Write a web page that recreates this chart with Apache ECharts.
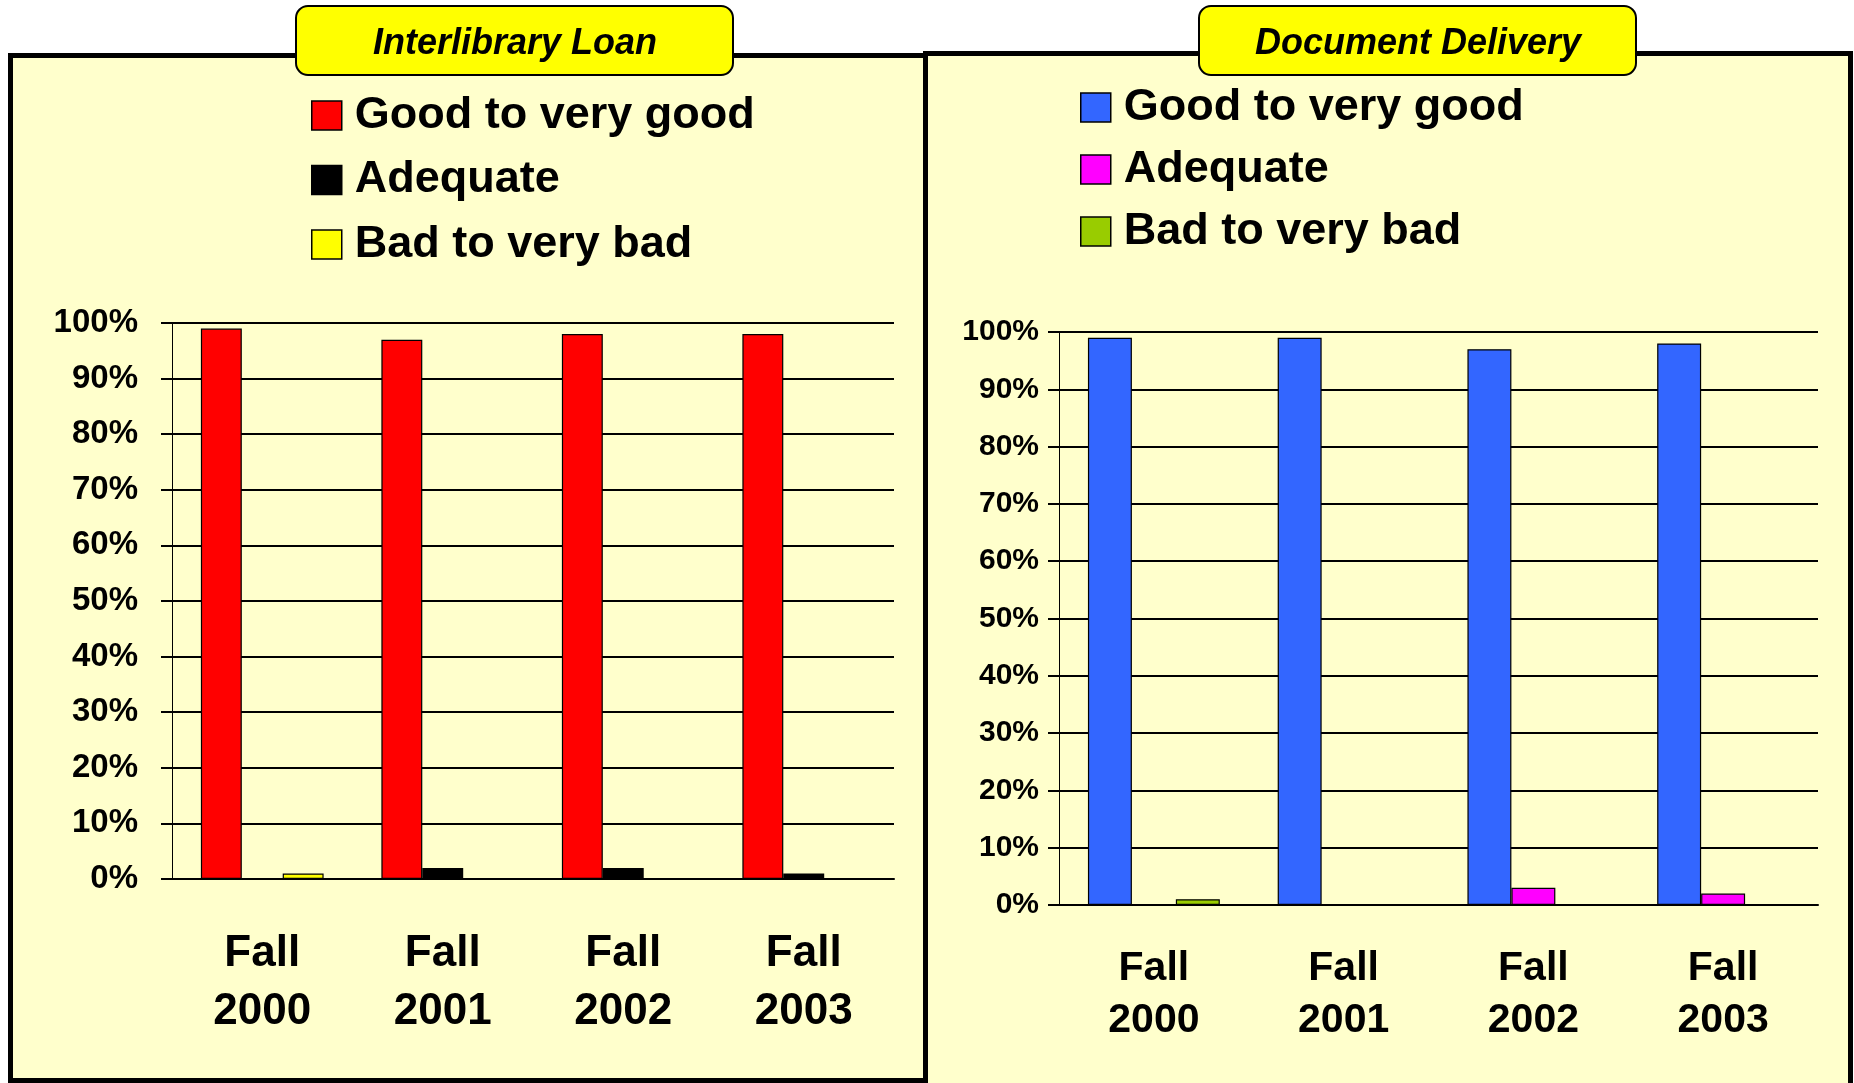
<!DOCTYPE html>
<html>
<head>
<meta charset="utf-8">
<title>Interlibrary Loan / Document Delivery</title>
<script src="https://cdn.jsdelivr.net/npm/echarts@6/dist/echarts.min.js"></script>
<style>
html, body { margin: 0; padding: 0; background: #fff; }
#chart { width: 1854px; height: 1083px; }
</style>
</head>
<body>
<div id="chart"></div>
<script>
// survey data, percent of answers
const categories = ['Fall 2000', 'Fall 2001', 'Fall 2002', 'Fall 2003']
const ratings = ['Good to very good', 'Adequate', 'Bad to very bad']
const illGood = [99, 97, 98, 98]
const illAdequate = [0, 2, 2, 1]
const illBad = [1, 0, 0, 0]
const ddGood = [99, 99, 97, 98]
const ddAdequate = [0, 0, 3, 2]
const ddBad = [1, 0, 0, 0]
const yTicks = { min: 0, max: 100, interval: 10 }

const illColors = ['#ff0000', '#000000', '#ffff00']
const ddColors = ['#3366ff', '#ff00ff', '#99cc00']
const font = '"Liberation Sans", Arial, sans-serif'

const myChart = echarts.init(document.getElementById('chart'))

function xAxis (gridIndex, fontSize, lineHeight, margin) {
  return {
    type: 'category',
    gridIndex: gridIndex,
    data: categories,
    axisLine: { lineStyle: { color: '#000', width: 2 } },
    axisTick: { length: 14, lineStyle: { color: '#000', width: 1.5 } },
    axisLabel: {
      color: '#000',
      fontFamily: font,
      fontWeight: 'bold',
      fontSize: fontSize,
      lineHeight: lineHeight,
      margin: margin,
      formatter: v => v.replace(' ', '\n')
    }
  }
}

function yAxis (gridIndex, fontSize, margin) {
  return {
    type: 'value',
    gridIndex: gridIndex,
    min: yTicks.min,
    max: yTicks.max,
    interval: yTicks.interval,
    axisLine: { show: true, lineStyle: { color: '#000', width: 1 } },
    axisTick: { show: true, length: 11, lineStyle: { color: '#000', width: 2 } },
    splitLine: { lineStyle: { color: '#000', width: 2 } },
    axisLabel: {
      color: '#000',
      fontFamily: font,
      fontWeight: 'bold',
      fontSize: fontSize,
      margin: margin,
      formatter: '{value}%'
    }
  }
}

function bars (name, data, color, idx, gap) {
  return {
    type: 'bar',
    name: name,
    data: data,
    xAxisIndex: idx,
    yAxisIndex: idx,
    barGap: 0,
    barCategoryGap: gap,
    itemStyle: { color: color, borderColor: '#000', borderWidth: 1.2 },
    emphasis: { disabled: true }
  }
}

function legend (left, top, gap, colors) {
  return {
    orient: 'vertical',
    left: left,
    top: top,
    padding: 0,
    itemGap: gap,
    itemWidth: 30,
    itemHeight: 29,
    icon: 'rect',
    selectedMode: false,
    data: ratings.map((r, i) => ({
      name: r,
      itemStyle: { color: colors[i], borderColor: '#000', borderWidth: 1.5 }
    })),
    textStyle: {
      color: '#000',
      fontFamily: font,
      fontWeight: 'bold',
      fontSize: 45,
      padding: [0, 0, 0, 8]
    }
  }
}

function badge (x) {
  return {
    type: 'rect',
    z: 5,
    shape: { x: x, y: 6, width: 437, height: 69, r: 12 },
    style: { fill: '#ffff00', stroke: '#000', lineWidth: 2 }
  }
}

const titleStyle = { color: '#000', fontFamily: font, fontWeight: 'bold', fontStyle: 'italic', fontSize: 36 }

const option = {
  animation: false,
  backgroundColor: '#fff',
  title: [
    { text: 'Interlibrary Loan', left: 515, top: 26, textAlign: 'center', padding: 0, z: 10, textStyle: titleStyle },
    { text: 'Document Delivery', left: 1418, top: 26, textAlign: 'center', padding: 0, z: 10, textStyle: titleStyle }
  ],
  graphic: [
    {
      type: 'rect',
      z: -1,
      shape: { x: 10.5, y: 55.5, width: 915, height: 1025 },
      style: { fill: '#ffffcc', stroke: '#000', lineWidth: 5 }
    },
    {
      type: 'rect',
      z: -1,
      shape: { x: 925.5, y: 53.5, width: 925, height: 1045 },
      style: { fill: '#ffffcc', stroke: '#000', lineWidth: 5 }
    },
    badge(296),
    badge(1199)
  ],
  legend: [
    legend(311, 93, 19.5, illColors),
    legend(1080, 85, 17, ddColors)
  ],
  grid: [
    { left: 172, top: 323, width: 722, height: 556 },
    { left: 1059, top: 332, width: 759, height: 573 }
  ],
  xAxis: [xAxis(0, 44, 58, 46), xAxis(1, 41, 52, 38)],
  yAxis: [yAxis(0, 33, 34), yAxis(1, 30, 20)],
  series: [
    bars(ratings[0], illGood, illColors[0], 0, '32%'),
    bars(ratings[1], illAdequate, illColors[1], 0, '32%'),
    bars(ratings[2], illBad, illColors[2], 0, '32%'),
    bars(ratings[0], ddGood, ddColors[0], 1, '30.5%'),
    bars(ratings[1], ddAdequate, ddColors[1], 1, '30.5%'),
    bars(ratings[2], ddBad, ddColors[2], 1, '30.5%')
  ]
}

myChart.setOption(option)
</script>
</body>
</html>
